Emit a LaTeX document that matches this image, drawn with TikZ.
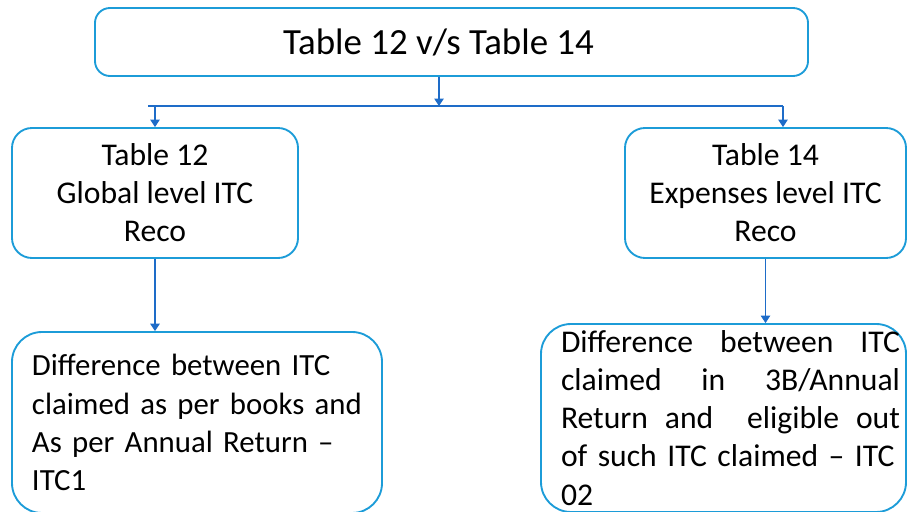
\documentclass[tikz,border=0pt]{standalone}
\usepackage{fontspec}
\setmainfont{Carlito}
\usetikzlibrary{arrows.meta}
\definecolor{boxblue}{RGB}{28,156,216}
\definecolor{linkblue}{RGB}{30,108,200}
\tikzset{
  itcbox/.style={draw=boxblue, line width=1.6pt, rounded corners=0.6cm,
    font=\fontsize{27}{32.5}\selectfont, align=center},
  notebox/.style={itcbox, rounded corners=0.9cm, align=left, inner ysep=0pt},
  link/.style={draw=linkblue, line width=0.9pt},
  tip/.style={-{Triangle[width=0.28cm,length=0.22cm]}}
}
\begin{document}
\begin{tikzpicture}[x=0.03cm, y=-0.03cm]
      \useasboundingbox (0,0) rectangle (907,512);
      \clip (0,0) rectangle (907,512);

      % boite du haut
      \node[itcbox, rounded corners=0.45cm, minimum width=21.39cm, minimum height=2.04cm,
        font=\fontsize{31.5}{36}\selectfont] (top) at (451.5,42) {Table 12 v/s Table 14\hspace*{0.78cm}};

      % deux tables
      \node[itcbox, minimum width=8.58cm, minimum height=3.9cm] (t12) at (155,193)
        {Table 12\\Global level ITC\\Reco};
      \node[itcbox, minimum width=8.43cm, minimum height=3.9cm] (t14) at (765.5,193)
        {Table 14\\Expenses level ITC\\Reco};

      % differences
      \node[notebox, font=\fontsize{26.3}{32.5}\selectfont, text width=10.5cm, minimum width=11.1cm,
        minimum height=5.43cm] (d12) at (197,422.5)
        {\hspace*{0.3cm}Difference between ITC\\
         \hspace*{0.3cm}claimed as per books and\\
         \hspace*{0.3cm}As per Annual Return --\\
         \hspace*{0.3cm}ITC1};
      \node[notebox, text width=10.59cm, minimum width=10.95cm, minimum height=5.64cm] (d14) at (723.5,418)
        {\hspace*{0.42cm}\hbox to 10.17cm{Difference\hfill between\hfill ITC}\\
         \hspace*{0.42cm}\hbox to 10.17cm{claimed\hfill in\hfill 3B/Annual}\\
         \hspace*{0.42cm}\hbox to 10.17cm{Return\hfill and\hfill\hfill eligible\hfill out}\\
         \hspace*{0.42cm}of such ITC claimed -- ITC\\
         \hspace*{0.42cm}02};

      % liaisons
      \coordinate (busL) at (148,106);
      \coordinate (busM) at (439,106);
      \coordinate (busR) at (783,106);
      \draw[link] (busL) -- (busR);
      \draw[link, tip] (top.south -| busM) -- (busM);
      \draw[link, tip] (t12.north |- busL) -- (t12.north);
      \draw[link, tip] (busR) -- (busR |- t14.north);
      \draw[link, tip, line width=1.2pt] (t12.south) -- (t12.south |- d12.north);
      \draw[link, tip, line width=0.7pt] (t14.south) -- (t14.south |- d14.north);
\end{tikzpicture}
\end{document}
